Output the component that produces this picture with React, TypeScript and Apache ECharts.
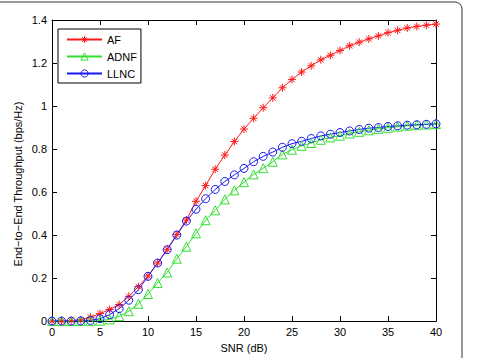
import React, { useEffect, useRef } from "react";
import * as echarts from "echarts";

// SNR sweep (dB) and end-to-end throughput (bps/Hz) per scheme
const snr = [
  0, 1, 2, 3, 4, 5, 6, 7, 8, 9, 10, 11, 12, 13, 14, 15, 16, 17, 18, 19, 20,
  21, 22, 23, 24, 25, 26, 27, 28, 29, 30, 31, 32, 33, 34, 35, 36, 37, 38, 39, 40,
];

const af = [
  0, 0, 0.002, 0.006, 0.018, 0.035, 0.054, 0.077, 0.115, 0.16,
  0.21, 0.27, 0.334, 0.403, 0.47, 0.557, 0.63, 0.706, 0.772, 0.835,
  0.893, 0.943, 0.992, 1.038, 1.085, 1.123, 1.158, 1.187, 1.215, 1.236,
  1.258, 1.28, 1.297, 1.312, 1.326, 1.341, 1.352, 1.363, 1.37, 1.376, 1.381,
];

const adnf = [
  0, 0, 0, 0, 0, 0.002, 0.008, 0.023, 0.046, 0.08,
  0.126, 0.177, 0.226, 0.29, 0.346, 0.408, 0.469, 0.515, 0.566, 0.608,
  0.646, 0.682, 0.711, 0.741, 0.775, 0.797, 0.815, 0.828, 0.843, 0.854,
  0.862, 0.872, 0.88, 0.887, 0.894, 0.899, 0.904, 0.908, 0.911, 0.914, 0.916,
];

const llnc = [
  0, 0, 0, 0.001, 0.003, 0.011, 0.03, 0.058, 0.097, 0.146,
  0.208, 0.27, 0.332, 0.4, 0.465, 0.52, 0.569, 0.612, 0.649, 0.68,
  0.71, 0.741, 0.766, 0.786, 0.808, 0.825, 0.836, 0.849, 0.861, 0.869,
  0.877, 0.884, 0.891, 0.897, 0.9, 0.905, 0.908, 0.911, 0.913, 0.915, 0.917,
];

const seriesNames = ["AF", "ADNF", "LLNC"];
const xTitle = "SNR (dB)";
const yTitle = "End\u2212to\u2212End Throughput (bps/Hz)";

const FONT = "Liberation Sans, Arial, Helvetica, sans-serif";
const ASTERISK =
  "path://M5 0 L5 10 M0 5 L10 5 M1.6 1.6 L8.4 8.4 M1.6 8.4 L8.4 1.6";

function makeSeries(name: string, values: number[], color: string, symbol: string, size: number) {
  return {
    name,
    type: "line",
    data: snr.map((x, i) => [x, values[i]]),
    symbol,
    symbolSize: size,
    showSymbol: true,
    lineStyle: { color, width: 1 },
    itemStyle: { color: "rgba(0,0,0,0)", borderColor: color, borderWidth: 1 },
    emphasis: { disabled: true },
  };
}

export default function App() {
  const ref = useRef<HTMLDivElement>(null);

  useEffect(() => {
    if (!ref.current) return;
    const chart = echarts.init(ref.current, undefined, { renderer: "svg" });

    const axisLine = { show: true, onZero: false, lineStyle: { color: "#000", width: 1 } };
    const tick = { show: true, inside: true, length: 5, lineStyle: { color: "#000" } };
    const label = { color: "#000", fontSize: 11, fontFamily: FONT };

    chart.setOption({
      animation: false,
      backgroundColor: "#fff",
      grid: { left: 52, right: 46, top: 20, bottom: 35, containLabel: false },
      legend: {
        orient: "vertical",
        left: 58,
        top: 29,
        data: seriesNames,
        itemWidth: 35,
        itemHeight: 9,
        itemGap: 6,
        padding: [5, 4, 4, 8],
        borderColor: "#000",
        borderWidth: 1,
        backgroundColor: "#fff",
        itemStyle: { color: "rgba(0,0,0,0)", borderWidth: 1 },
        textStyle: { color: "#000", fontSize: 11, fontFamily: FONT, padding: [0, 0, 0, 0] },
        z: 10,
      },
      xAxis: [
        {
          type: "value",
          min: 0,
          max: 40,
          interval: 5,
          position: "bottom",
          axisLine,
          axisTick: tick,
          axisLabel: { ...label, margin: 5 },
          splitLine: { show: false },
          name: xTitle,
          nameLocation: "middle",
          nameGap: 19,
          nameTextStyle: { color: "#000", fontSize: 11, fontFamily: FONT },
        },
        {
          type: "value",
          min: 0,
          max: 40,
          interval: 5,
          position: "top",
          axisLine,
          axisTick: tick,
          axisLabel: { show: false },
          splitLine: { show: false },
        },
      ],
      yAxis: [
        {
          type: "value",
          min: 0,
          max: 1.4,
          interval: 0.2,
          position: "left",
          axisLine,
          axisTick: tick,
          axisLabel: {
            ...label,
            margin: 5,
            formatter: (v: number) => String(Number(v.toFixed(1))),
          },
          splitLine: { show: false },
        },
        {
          type: "value",
          min: 0,
          max: 1.4,
          interval: 0.2,
          position: "right",
          axisLine,
          axisTick: tick,
          axisLabel: { show: false },
          splitLine: { show: false },
        },
      ],
      series: [
        makeSeries(seriesNames[0], af, "#ff1a1a", ASTERISK, 8),
        makeSeries(seriesNames[1], adnf, "#33e033", "triangle", 9),
        makeSeries(seriesNames[2], llnc, "#1a1aee", "circle", 8),
      ],
      graphic: [
        {
          type: "rect",
          silent: true,
          shape: { x: -10, y: 2, width: 472, height: 420, r: 7 },
          style: { fill: "none", stroke: "#333", lineWidth: 1 },
          z: 0,
        },
        {
          type: "text",
          silent: true,
          x: 18,
          y: 184,
          rotation: Math.PI / 2,
          style: {
            text: yTitle,
            fill: "#000",
            font: `11px ${FONT}`,
            align: "center",
            verticalAlign: "middle",
          },
        },
      ],
    });

    return () => chart.dispose();
  }, []);

  return (
    <div
      ref={ref}
      style={{ position: "absolute", left: 0, top: 0, width: 482, height: 358 }}
    />
  );
}
